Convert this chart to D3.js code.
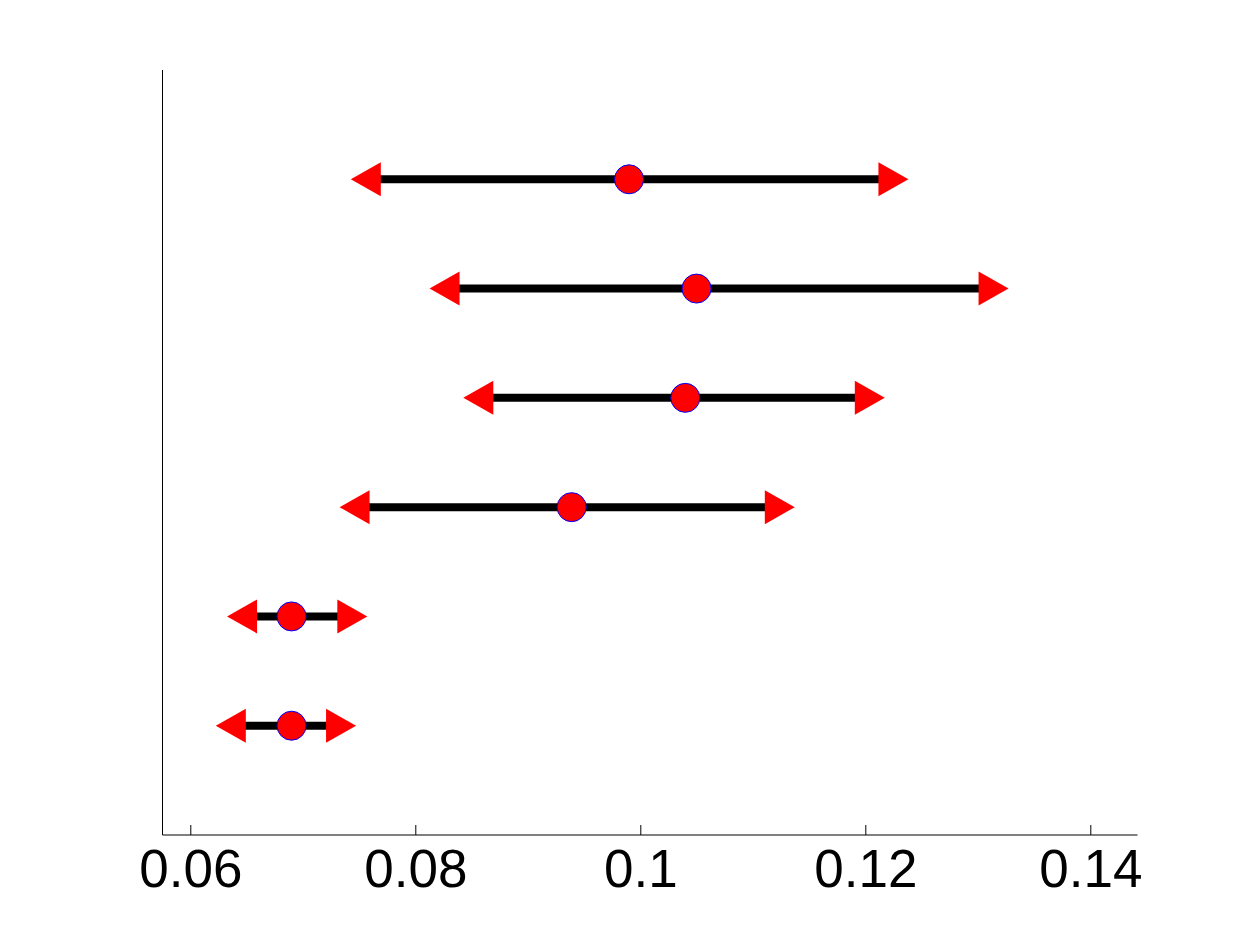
<!DOCTYPE html>
<meta charset="utf-8">
<head>
    <title></title>
    <script src="https://d3js.org/d3.v7.min.js"></script>
</head>
<style>
    body{ margin:0; background:#fff; }
    text{ font-family: "Liberation Sans", Arial, sans-serif; }
</style>
<svg width="1256" height="938"></svg>
<script>
    // rows listed bottom to top (y = 1..6)
    var rows = [1, 2, 3, 4, 5, 6],
        lower = [0.0636, 0.0646, 0.0746, 0.0856, 0.0826, 0.0756],
        center = [0.0690, 0.0690, 0.0939, 0.1040, 0.1050, 0.0990],
        upper = [0.0734, 0.0744, 0.1124, 0.1204, 0.1314, 0.1225],
        xTicks = [0.06, 0.08, 0.1, 0.12, 0.14];

    var svg = d3.select('svg'),
        axLeft = 162.5, axRight = 1137.5, axTop = 70, axBottom = 835;

    var x = d3.scaleLinear()
        .domain([0.06, 0.14])
        .range([190.3, 1090.3]);
    var y = d3.scaleLinear()
        .domain([0, 7])
        .range([axBottom, axTop]);

    var data = rows.map(function(r, i){
        return {y: r, lo: lower[i], c: center[i], hi: upper[i]};
    });

    // axes: left and bottom only
    svg.append('line')
        .attr('x1', axLeft).attr('x2', axLeft)
        .attr('y1', axTop).attr('y2', axBottom)
        .style('stroke', '#000').style('stroke-width', 1);

    var xAxis = d3.axisBottom(x)
        .tickValues(xTicks)
        .tickSizeInner(-10)
        .tickSizeOuter(0)
        .tickPadding(14)
        .tickFormat(function(d){ return d3.format('')(+d.toFixed(2)); });

    var gx = svg.append('g')
        .attr('transform', 'translate(0,' + axBottom + ')')
        .call(xAxis);
    gx.select('.domain').remove();
    gx.append('line')
        .attr('x1', axLeft).attr('x2', axRight)
        .attr('y1', 0).attr('y2', 0)
        .style('stroke', '#000').style('stroke-width', 1);
    gx.selectAll('.tick line').style('stroke', '#000').style('stroke-width', 1);
    gx.selectAll('.tick text')
        .style('font-size', '53px')
        .style('fill', '#000')
        .attr('dy', '0.71em');

    var g = svg.append('g');

    // interval lines
    g.selectAll('line.bar').data(data).enter().append('line')
        .attr('class', 'bar')
        .attr('x1', function(d){ return x(d.lo); })
        .attr('x2', function(d){ return x(d.hi); })
        .attr('y1', function(d){ return y(d.y); })
        .attr('y2', function(d){ return y(d.y); })
        .style('stroke', '#000')
        .style('stroke-width', 8);

    var hw = 15, hh = 17;

    // left-pointing triangles at lower bounds
    g.selectAll('path.lo').data(data).enter().append('path')
        .attr('class', 'lo')
        .attr('d', function(d){
            var cx = x(d.lo), cy = y(d.y);
            return 'M' + (cx - hw) + ',' + cy + 'L' + (cx + hw) + ',' + (cy - hh) + 'L' + (cx + hw) + ',' + (cy + hh) + 'Z';
        })
        .style('fill', '#ff0000');

    // right-pointing triangles at upper bounds
    g.selectAll('path.hi').data(data).enter().append('path')
        .attr('class', 'hi')
        .attr('d', function(d){
            var cx = x(d.hi), cy = y(d.y);
            return 'M' + (cx + hw) + ',' + cy + 'L' + (cx - hw) + ',' + (cy - hh) + 'L' + (cx - hw) + ',' + (cy + hh) + 'Z';
        })
        .style('fill', '#ff0000');

    // center points
    g.selectAll('circle').data(data).enter().append('circle')
        .attr('cx', function(d){ return x(d.c); })
        .attr('cy', function(d){ return y(d.y); })
        .attr('r', 14.5)
        .style('fill', '#ff0000')
        .style('stroke', '#0000ff')
        .style('stroke-width', 1);
</script>
